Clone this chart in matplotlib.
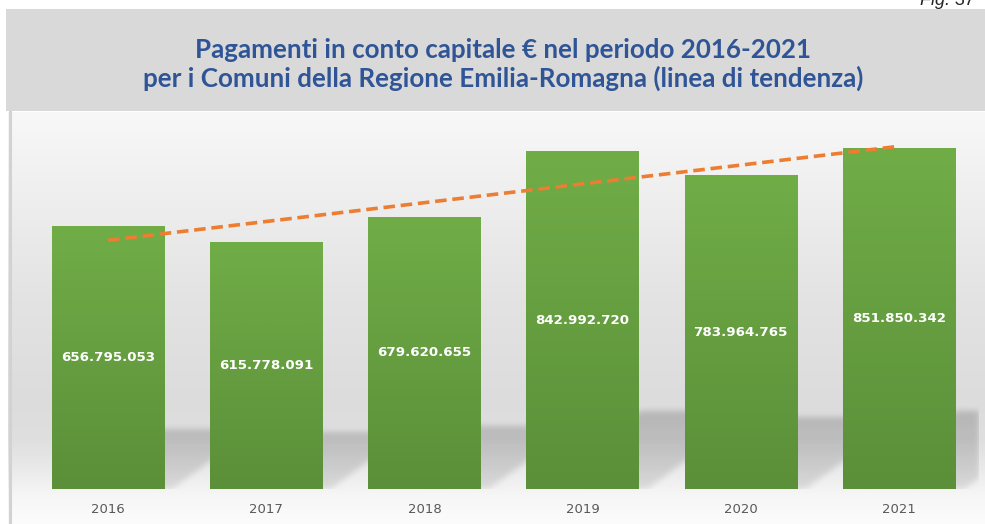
import numpy as np
import matplotlib
matplotlib.use("Agg")
import matplotlib.pyplot as plt
from matplotlib.colors import LinearSegmentedColormap
from matplotlib.patches import Rectangle
from matplotlib.lines import Line2D

# ---- data ----
years = ["2016", "2017", "2018", "2019", "2020", "2021"]
payments = [656795053, 615778091, 679620655, 842992720, 783964765, 851850342]

title_lines = [
    "Pagamenti in conto capitale € nel periodo 2016-2021",
    "per i Comuni della Regione Emilia-Romagna (linea di tendenza)",
]
fig_tag = "Fig. 37"

# ---- layout (pixels) ----
W, H = 985, 524
DPI = 100
fig = plt.figure(figsize=(W / DPI, H / DPI), dpi=DPI, facecolor="white")

def fx(px):
    return px / W

def fy(py_from_top):
    return 1 - py_from_top / H

# title band
fig.patches.append(Rectangle((fx(6), fy(111)), fx(979), 102 / H,
                             transform=fig.transFigure, facecolor="#d9d9d9",
                             edgecolor="none", zorder=0))

# panel background with vertical gradient
bg_ax = fig.add_axes([fx(8), 0, fx(977), (H - 112) / H])
bg_ax.set_axis_off()
stops_px = np.array([112, 200, 300, 400, 440, 470, 495, 524], float)
stops_val = np.array([0xf8, 0xee, 0xe3, 0xdc, 0xdf, 0xea, 0xf6, 0xfc], float) / 255
rows = np.arange(112, 524) + 0.5
grey = np.interp(rows, stops_px, stops_val)
bg_img = np.repeat(grey[:, None], 4, axis=1)
bg_rgb = np.dstack([bg_img, bg_img, bg_img])
bg_ax.imshow(bg_rgb, aspect="auto", extent=(0, 1, 0, 1), origin="upper",
             interpolation="bilinear")
bg_ax.set_xlim(0, 1)
bg_ax.set_ylim(0, 1)

# left border of the panel
fig.lines.append(Line2D([fx(9.5), fx(9.5)], [0, fy(112)], transform=fig.transFigure,
                        color="#d2d2d2", lw=2.2, zorder=1))

# main axes
ax_left, ax_right = 29, 978
ax_top, ax_bottom = 112, 489
ax = fig.add_axes([fx(ax_left), 1 - ax_bottom / H, fx(ax_right - ax_left),
                   (ax_bottom - ax_top) / H])
ax.set_facecolor("none")
for s in ax.spines.values():
    s.set_visible(False)

n = len(years)
x = np.arange(n)
ytop = 941.5e6
ax.set_xlim(-0.5, n - 0.5)
ax.set_ylim(0, ytop)
bar_w = 0.71

# cast shadows behind the bars (rasterised and blurred)
aw, ah = ax_right - ax_left, ax_bottom - ax_top
px_x = aw / n
px_y = ah / ytop
gx = np.arange(aw) + 0.5
gy = np.arange(ah) + 0.5
XX, YY = np.meshgrid(gx, gy)
mask = np.zeros_like(XX)
for i, v in enumerate(payments):
    cx = (i + 0.5) * px_x
    L, R = cx - bar_w * px_x / 2, cx + bar_w * px_x / 2
    sh = 0.23 * v * px_y
    shift = 8 + 1.35 * YY
    inside = (YY <= sh) & (XX >= L + shift) & (XX <= R + shift)
    mask = np.maximum(mask, inside.astype(float))

def blur(a, sigma):
    r = int(3 * sigma)
    k = np.exp(-0.5 * (np.arange(-r, r + 1) / sigma) ** 2)
    k /= k.sum()
    a = np.apply_along_axis(lambda m: np.convolve(m, k, mode="same"), 0, a)
    a = np.apply_along_axis(lambda m: np.convolve(m, k, mode="same"), 1, a)
    return a

mask = blur(mask, 3.0)
alpha = mask * np.interp(YY, [0, 80], [0.10, 0.18])
shadow = np.zeros((ah, aw, 4))
shadow[..., 3] = alpha
ax.imshow(shadow, extent=(-0.5, n - 0.5, 0, ytop), origin="lower",
          aspect="auto", zorder=1, interpolation="bilinear")

# bars with a soft vertical gradient
bar_cmap = LinearSegmentedColormap.from_list("bar", ["#5b8f39", "#70ad47"])
grad = np.linspace(0, 1, 256)[:, None]
bars = ax.bar(x, payments, width=bar_w, color="none", edgecolor="none", zorder=2)
for b, v in zip(bars, payments):
    im = ax.imshow(grad, cmap=bar_cmap, origin="lower", aspect="auto",
                   extent=(b.get_x(), b.get_x() + b.get_width(), 0, v),
                   zorder=2)
    im.set_clip_path(b)

# value labels
for xi, v in zip(x, payments):
    ax.text(xi, v / 2, f"{v:,}".replace(",", "."), ha="center", va="center",
            color="white", fontsize=9.6, fontweight="bold",
            family="DejaVu Sans", zorder=4)

# linear trend line
coef = np.polyfit(x, payments, 1)
ax.plot(x, np.polyval(coef, x), color="#ed7d31", lw=2.6,
        linestyle=(0, (3.2, 1.6)), zorder=3, solid_capstyle="butt")

ax.set_xlim(-0.5, n - 0.5)
ax.set_ylim(0, ytop)
ax.set_yticks([])
ax.set_xticks(x)
ax.set_xticklabels(years, color="#595959", fontsize=9.5, family="DejaVu Sans")
ax.tick_params(axis="x", length=0, pad=10)

# title
fig.text(fx(503), fy(58), title_lines[0], ha="center", va="baseline",
         color="#2f5597", fontsize=18.7, fontweight="bold", family="Lato")
fig.text(fx(503), fy(87), title_lines[1], ha="center", va="baseline",
         color="#2f5597", fontsize=18.7, fontweight="bold", family="Lato")

fig.text(fx(920), fy(5), fig_tag, ha="left", va="baseline", fontsize=13,
         style="italic", color="#262626", family="Liberation Sans")

fig.savefig("out.png", dpi=DPI, facecolor="white")
